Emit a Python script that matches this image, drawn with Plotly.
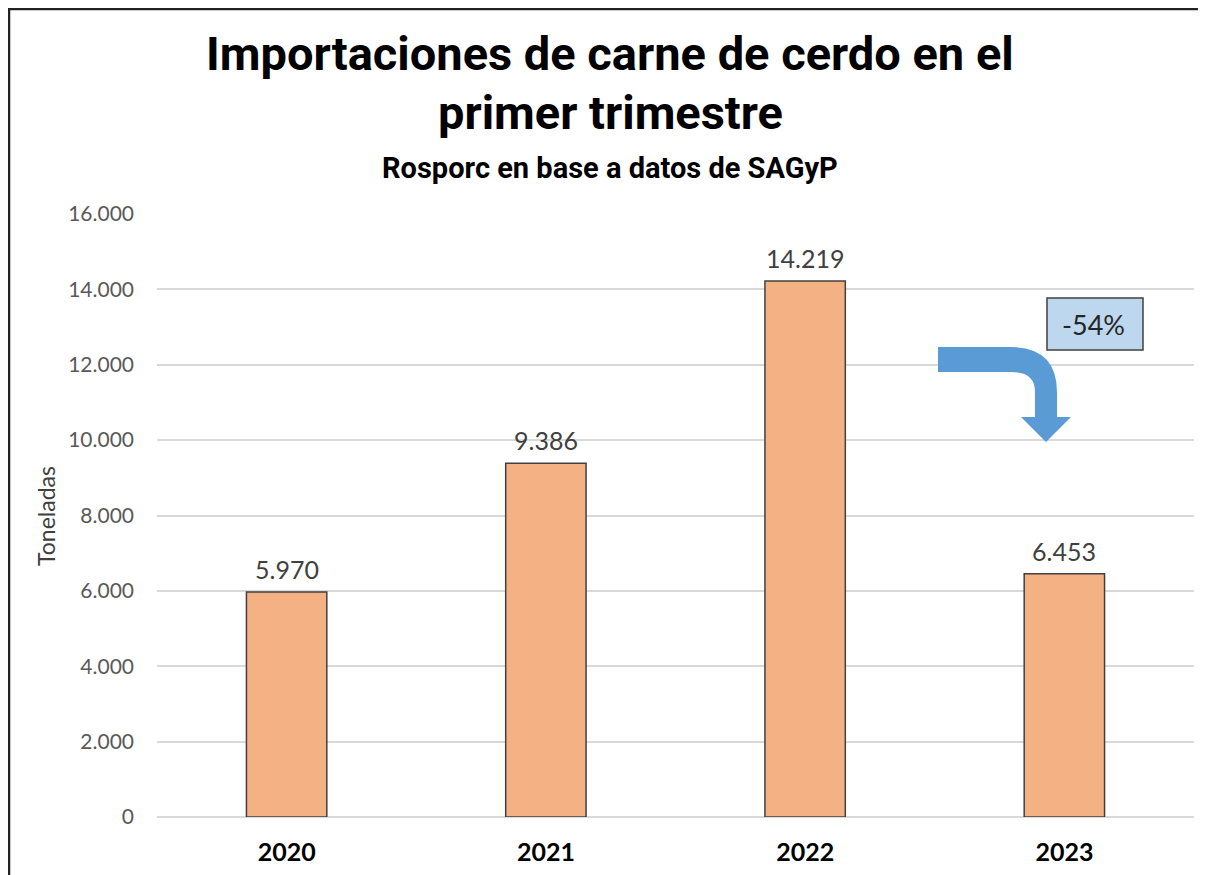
import plotly.graph_objects as go

# ── Data ─────────────────────────────────────────────────────────────────
YEARS  = ["2020", "2021", "2022", "2023"]
TONS   = [5970, 9386, 14219, 6453]
Y_TICKS = [0, 2000, 4000, 6000, 8000, 10000, 12000, 14000, 16000]
CHANGE_LABEL = "-54%"

TITLE_1  = "Importaciones de carne de cerdo en el"
TITLE_2  = "primer trimestre"
SUBTITLE = "Rosporc en base a datos de SAGyP"
Y_LABEL  = "Toneladas"

# ── Geometry, in screen pixels (page body adds an 8px offset) ────────────
OFF = 8
W, H = 1206 - OFF, 875 - OFF
L, R, T, B = 157, 1194, 214, 817   # plot area on screen

_BAR  = "#F4B183"
_EDGE = "#404040"
_GRID = "#D9D9D9"
_BLUE = "#5B9BD5"
_BOX  = "#BDD7EE"
BODY_FONT  = "Lato, Carlito, 'Open Sans', sans-serif"
TITLE_FONT = "Roboto, 'Liberation Sans', sans-serif"


def px(x):
    return (x - L) / (R - L)


def py(y):
    return (B - y) / (B - T)


fig = go.Figure()

fig.add_trace(go.Bar(
    x=YEARS, y=TONS,
    width=0.31,
    marker=dict(color=_BAR, line=dict(color=_EDGE, width=1.5)),
    hoverinfo="skip",
))

# value labels above the bars (x given as category index)
for i, v in enumerate(TONS):
    fig.add_annotation(
        x=i, y=v, text=f"{v:,}".replace(",", "."), showarrow=False,
        xanchor="center", yanchor="bottom", yshift=6,
        font=dict(size=25, color="#404040", family=BODY_FONT),
    )

# ── Titles ───────────────────────────────────────────────────────────────
for text, yc, size in [(TITLE_1, 53, 47), (TITLE_2, 113, 47), (SUBTITLE, 168, 29)]:
    fig.add_annotation(
        text=text, xref="paper", yref="paper",
        x=px(610), y=py(yc), xanchor="center", yanchor="middle",
        showarrow=False,
        font=dict(size=size, color="#000000", family=TITLE_FONT, weight=700),
    )

fig.add_annotation(
    text=Y_LABEL, xref="paper", yref="paper", x=px(46), y=py(516),
    xanchor="center", yanchor="middle", textangle=-90, showarrow=False,
    font=dict(size=23, color="#404040", family=BODY_FONT),
)

# ── Curved arrow + change box ────────────────────────────────────────────
arrow_pts = [
    ("M", 938, 347), ("L", 1010, 347), ("Q", 1057, 347, 1057, 392),
    ("L", 1057, 417), ("L", 1071, 417), ("L", 1046, 442), ("L", 1021, 417),
    ("L", 1035, 417), ("L", 1035, 392), ("Q", 1035, 372, 1012, 372),
    ("L", 938, 372),
]
path = ""
for cmd, *xy in arrow_pts:
    coords = " ".join(f"{px(xy[i]):.5f},{py(xy[i + 1]):.5f}" for i in range(0, len(xy), 2))
    path += f"{cmd} {coords} "
path += "Z"
fig.add_shape(type="path", path=path, xref="paper", yref="paper",
              fillcolor=_BLUE, line=dict(width=0), layer="above")

fig.add_shape(type="rect", xref="paper", yref="paper",
              x0=px(1047), x1=px(1143), y0=py(350), y1=py(298),
              fillcolor=_BOX, line=dict(color="#404040", width=1.5))
fig.add_annotation(text=CHANGE_LABEL, xref="paper", yref="paper",
                   x=px(1093), y=py(324), xanchor="center", yanchor="middle",
                   showarrow=False,
                   font=dict(size=27, color="#262626", family=BODY_FONT))

# ── Frame lines (top and left) ───────────────────────────────────────────
fig.add_shape(type="line", xref="paper", yref="paper",
              x0=px(8), x1=px(1206), y0=py(9), y1=py(9),
              line=dict(color="#222222", width=2.5))
fig.add_shape(type="line", xref="paper", yref="paper",
              x0=px(9), x1=px(9), y0=py(8), y1=py(875),
              line=dict(color="#222222", width=2.5))

fig.update_layout(
    width=W, height=H,
    margin=dict(l=L - OFF, r=1206 - R, t=T - OFF, b=875 - B, autoexpand=False),
    paper_bgcolor="white", plot_bgcolor="white",
    separators=",.",
    showlegend=False,
)
fig.update_xaxes(
    type="category",
    showgrid=False, showline=False, zeroline=False,
    tickfont=dict(size=25, color="#000000", family=BODY_FONT),
    ticklabelstandoff=18,
    tickprefix="<b>", ticksuffix="</b>",
)
fig.update_yaxes(
    range=[0, 16000], tickvals=Y_TICKS, tickformat=",d",
    showgrid=True, gridcolor=_GRID, gridwidth=1.5,
    zeroline=True, zerolinecolor=_GRID, zerolinewidth=1.5,
    showline=False,
    tickfont=dict(size=21, color="#595959", family=BODY_FONT),
    ticklabelstandoff=22,
)

fig.write_html("out.html")
